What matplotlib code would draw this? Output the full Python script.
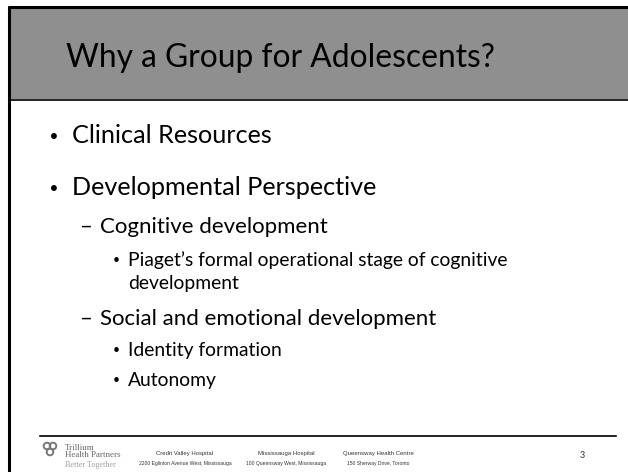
import matplotlib
matplotlib.use("Agg")
import matplotlib.pyplot as plt
from matplotlib.patches import Rectangle, Circle

# slide content
title = "Why a Group for Adolescents?"
levels = [1, 1, 2, 3, 3, 2, 3, 3]
markers = ["•", "•", "–", "•", "", "–", "•", "•"]
lines = [
    "Clinical Resources",
    "Developmental Perspective",
    "Cognitive development",
    "Piaget’s formal operational stage of cognitive",
    "development",
    "Social and emotional development",
    "Identity formation",
    "Autonomy",
]
baselines = [143, 195, 233, 266, 289, 325, 356, 386]

site_names = ["Credit Valley Hospital", "Mississauga Hospital", "Queensway Health Centre"]
site_addr = ["2200 Eglinton Avenue West, Mississauga", "100 Queensway West, Mississauga",
             "150 Sherway Drive, Toronto"]
site_x = [185, 286, 378]
page_no = "3"

W, H = 628, 472
fig = plt.figure(figsize=(W / 100, H / 100), dpi=100)
ax = fig.add_axes([0, 0, 1, 1])
ax.set_xlim(0, W)
ax.set_ylim(H, 0)
ax.axis("off")
renderer = fig.canvas.get_renderer()

FONT = "Lato"


def fit_size(s, width, family=FONT):
    t = ax.text(0, 0, s, fontsize=10, family=family)
    w = t.get_window_extent(renderer).width
    t.remove()
    return 10 * width / w


# level sizes fitted on sample strings
size_title = fit_size(title, 430)
sizes = {
    1: fit_size("Developmental Perspective", 305),
    2: fit_size("Cognitive development", 228),
    3: fit_size("Identity formation", 154),
}
mark_x = {1: 48, 2: 80, 3: 112}
text_x = {1: 72, 2: 100, 3: 128}

# header band
ax.add_patch(Rectangle((9, 8), W, 91, facecolor="#8f8f8f", edgecolor="none"))
ax.plot([8, W], [7, 7], color="black", lw=2.2, solid_capstyle="butt")
ax.plot([9, W], [99.5, 99.5], color="#222222", lw=1.4, solid_capstyle="butt")
ax.plot([9, 9], [6, H], color="black", lw=2.2, solid_capstyle="butt")

ax.text(66, 67, title, fontsize=size_title, family=FONT, color="black", va="baseline")

for lv, mk, s, y in zip(levels, markers, lines, baselines):
    fs = sizes[lv]
    if mk == "•":
        ax.text(mark_x[lv], y, mk, fontsize=fs * 0.8, family="DejaVu Sans", va="baseline", ha="left")
    elif mk == "–":
        ax.text(mark_x[lv], y, mk, fontsize=fs, family=FONT, va="baseline", ha="left")
    ax.text(text_x[lv], y, s, fontsize=fs, family=FONT, va="baseline", ha="left")

# footer
ax.plot([40, 616], [436, 436], color="black", lw=1.2)
for name, addr, x in zip(site_names, site_addr, site_x):
    ax.text(x, 454, name, fontsize=4.3, family="Liberation Sans", color="#333333",
            ha="center", va="center")
    ax.text(x, 463, addr, fontsize=3.6, family="Liberation Sans", color="#333333",
            ha="center", va="center")
ax.text(582, 455, page_no, fontsize=6.5, family=FONT, color="#333333", ha="center", va="center")

# logo
for cx, cy in [(47, 446), (53, 446), (50, 452)]:
    ax.add_patch(Circle((cx, cy), 3.3, facecolor="none", edgecolor="#777777", lw=1.4))
logo_fs = fit_size("Health Partners", 55, "Liberation Serif")
ax.text(65, 448, "Trillium", fontsize=logo_fs, family="Liberation Serif", color="#666666", va="center")
ax.text(65, 455, "Health Partners", fontsize=logo_fs, family="Liberation Serif", color="#666666", va="center")
ax.text(65, 465, "Better Together", fontsize=logo_fs * 0.92, family="Liberation Serif", color="#a0a0a0", va="center")

fig.savefig("out.png", dpi=100)
